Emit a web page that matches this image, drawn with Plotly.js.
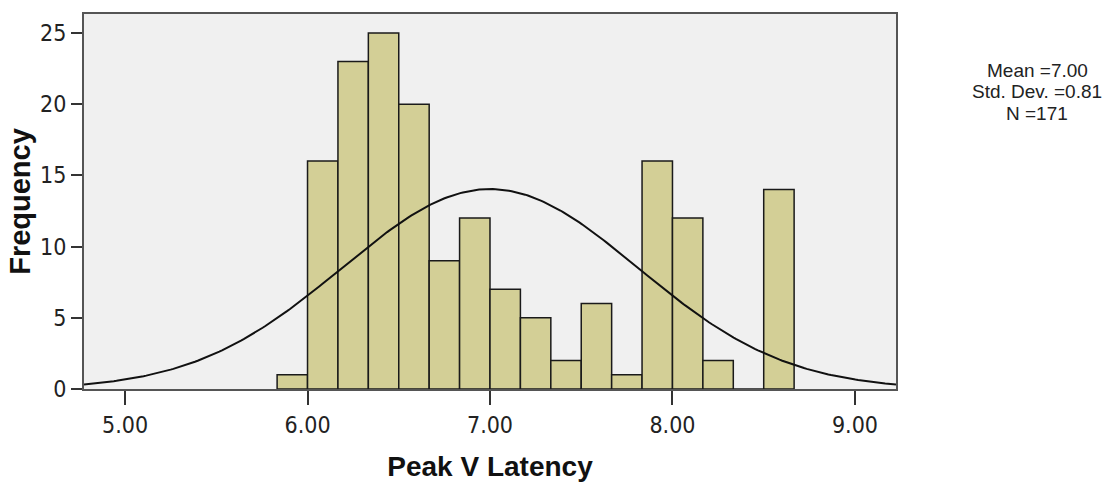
<!DOCTYPE html>
<html>
<head>
<meta charset="utf-8">
<script src="https://cdn.plot.ly/plotly-3.0.1.min.js"></script>
<style>html,body{margin:0;padding:0;background:#fff;}#chart{width:1117px;height:487px;}</style>
</head>
<body>
<div id="chart"></div>
<script>
// Histogram bins (lower edges) and frequencies
var binLower = [5.8333, 6.0, 6.1667, 6.3333, 6.5, 6.6667, 6.8333, 7.0, 7.1667, 7.3333, 7.5, 7.6667, 7.8333, 8.0, 8.1667, 8.3333, 8.5];
var frequency = [1, 16, 23, 25, 20, 9, 12, 7, 5, 2, 6, 1, 16, 12, 2, 0, 14];
var binWidth = 1/6;
// Summary statistics shown in the chart
var statMean = 7.00;
var statSD = 0.81;
var statN = 171;
var xTickVals = [5, 6, 7, 8, 9];
var xTickText = ['5.00', '6.00', '7.00', '8.00', '9.00'];
var yTickVals = [0, 5, 10, 15, 20, 25];
var statLines = ['Mean =' + statMean.toFixed(2), 'Std. Dev. =' + statSD.toFixed(2), 'N =' + statN];

var binCenter = binLower.map(function(b){ return b + binWidth/2; });

// Normal curve implied by the displayed mean, SD and N (SPSS-style fitted curve)
var curveX = [], curveY = [];
for (var i = 0; i <= 300; i++) {
  var xv = 4.775 + i * (9.225 - 4.775) / 300;
  var z = (xv - statMean) / statSD;
  curveX.push(xv);
  curveY.push(statN * binWidth / (statSD * Math.sqrt(2 * Math.PI)) * Math.exp(-0.5 * z * z));
}

var narrow = 'Liberation Sans Narrow, Arial Narrow, DejaVu Sans Condensed, sans-serif';
var sans = 'Liberation Sans, Arial, sans-serif';

var traces = [
  {
    type: 'bar', x: binCenter, y: frequency, width: binWidth,
    marker: {color: '#d3cf96', line: {color: '#1a1a1a', width: 1.5}},
    hoverinfo: 'x+y', showlegend: false
  },
  {
    type: 'scatter', mode: 'lines', x: curveX, y: curveY,
    line: {color: '#111', width: 2}, hoverinfo: 'skip', showlegend: false
  }
];

var statY = [0.849, 0.792, 0.735];
var annotations = statLines.map(function(t, k){
  return {
    xref: 'paper', yref: 'paper', x: 1.1737, y: statY[k], xanchor: 'center', yanchor: 'middle',
    text: t, showarrow: false, align: 'center',
    font: {size: 19, color: '#222', family: sans}
  };
});

var layout = {
  width: 1117, height: 487,
  margin: {l: 84, r: 221, t: 14, b: 98},
  paper_bgcolor: '#ffffff', plot_bgcolor: '#f0f0f0',
  font: {family: narrow, color: '#222', size: 23},
  bargap: 0,
  xaxis: {
    range: [4.775, 9.225], tickvals: xTickVals, ticktext: xTickText,
    ticks: 'outside', ticklen: 14, tickwidth: 2, tickcolor: '#333',
    showline: true, mirror: true, linecolor: '#555', linewidth: 2,
    showgrid: false, zeroline: false, automargin: false,
    tickfont: {size: 23, color: '#222', family: narrow},
    title: {text: 'Peak V Latency', font: {size: 28, color: '#111', family: sans, weight: 'bold'}, standoff: 20}
  },
  yaxis: {
    range: [0, 26.33], tickvals: yTickVals,
    ticks: 'outside', ticklen: 11, tickwidth: 2, tickcolor: '#333',
    showline: true, mirror: true, linecolor: '#555', linewidth: 2,
    showgrid: false, zeroline: false, automargin: false,
    tickfont: {size: 23, color: '#222', family: narrow},
    title: {text: 'Frequency', font: {size: 29, color: '#111', family: sans, weight: 'bold'}, standoff: 1}
  },
  annotations: annotations
};

Plotly.newPlot('chart', traces, layout, {displayModeBar: false, staticPlot: true});
</script>
</body>
</html>
